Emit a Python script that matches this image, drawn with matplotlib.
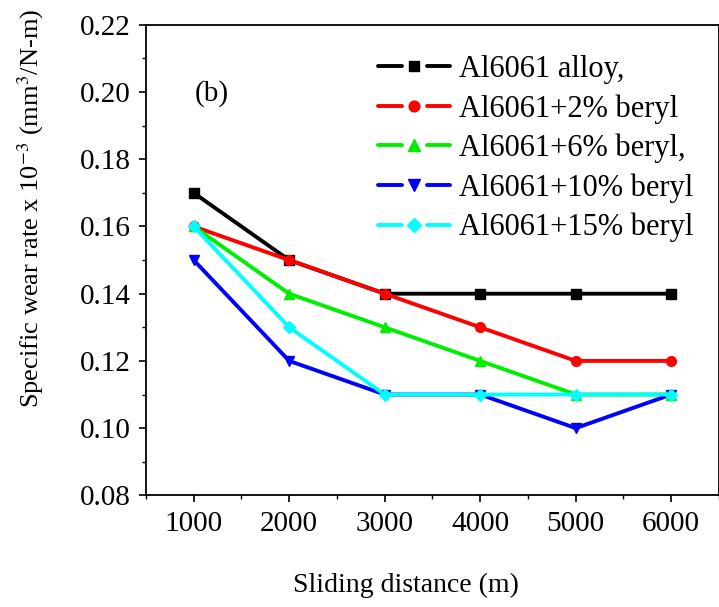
import matplotlib.pyplot as plt
from matplotlib.lines import Line2D
from matplotlib.legend_handler import HandlerBase
from matplotlib.ticker import MultipleLocator

plt.rcParams['font.family'] = ['Liberation Serif', 'DejaVu Serif']
plt.rcParams['mathtext.fontset'] = 'stix'

distance = [1000, 2000, 3000, 4000, 5000, 6000]
alloy = [0.17, 0.15, 0.14, 0.14, 0.14, 0.14]
beryl2 = [0.16, 0.15, 0.14, 0.13, 0.12, 0.12]
beryl6 = [0.16, 0.14, 0.13, 0.12, 0.11, 0.11]
beryl10 = [0.15, 0.12, 0.11, 0.11, 0.10, 0.11]
beryl15 = [0.16, 0.13, 0.11, 0.11, 0.11, 0.11]

series = [
    (alloy, 'Al6061 alloy,', '#000000', 's', 6.5),
    (beryl2, 'Al6061+2% beryl', '#ff0000', 'o', 7),
    (beryl6, 'Al6061+6% beryl,', '#00ee00', '^', 7.5),
    (beryl10, 'Al6061+10% beryl', '#0000ff', 'v', 7.5),
    (beryl15, 'Al6061+15% beryl', '#00ffff', 'D', 6.5),
]


class GapHandler(HandlerBase):
    # Origin-style legend entry: line segment, marker, line segment
    def create_artists(self, legend, orig_handle, xdescent, ydescent,
                       width, height, fontsize, trans):
        y = height / 2 - ydescent
        x0 = -xdescent
        seg = width * 0.33
        color = orig_handle.get_color()
        lw = orig_handle.get_linewidth()
        l1 = Line2D([x0, x0 + seg], [y, y], color=color, lw=lw, solid_capstyle='round')
        l2 = Line2D([x0 + width - seg, x0 + width], [y, y], color=color, lw=lw,
                    solid_capstyle='round')
        m = Line2D([x0 + width / 2], [y], linestyle='none', marker=orig_handle.get_marker(),
                   markersize=orig_handle.get_markersize() * 1.1, color=color)
        for a in (l1, l2, m):
            a.set_transform(trans)
        return [l1, l2, m]


fig = plt.figure(figsize=(7.19, 6.07), dpi=100)
ax = fig.add_axes([0.203, 0.184, 0.797, 0.775])

handles = []
for values, label, color, marker, ms in series:
    h, = ax.plot(distance, values, color=color, marker=marker, markersize=ms,
                 linewidth=2.8, label=label)
    handles.append(h)

ax.set_xlim(500, 6500)
ax.set_ylim(0.08, 0.22)
ax.set_xticks(distance)
ax.xaxis.set_minor_locator(MultipleLocator(500))
ax.set_yticks([0.08, 0.10, 0.12, 0.14, 0.16, 0.18, 0.20, 0.22])
ax.yaxis.set_minor_locator(MultipleLocator(0.01))
ax.yaxis.set_major_formatter(plt.FormatStrFormatter('%.2f'))

ax.tick_params(axis='both', which='major', labelsize=21, length=5, width=1.2,
               direction='out', pad=6)
ax.tick_params(axis='both', which='minor', length=3, width=1.0, direction='out')
for sp in ax.spines.values():
    sp.set_linewidth(1.3)

ax.set_xlabel('Sliding distance (m)', fontsize=20)
ax.xaxis.set_label_coords(0.453, -0.165)
ax.set_ylabel(r'Specific wear rate x 10$^{-3}$ (mm$^{3}$/N-m)', fontsize=19)
ax.yaxis.set_label_coords(-0.175, 0.61)

ax.text(0.086, 0.855, '(b)', transform=ax.transAxes, fontsize=21, va='center')

ax.legend(handles=handles, loc='upper right', bbox_to_anchor=(0.988, 0.975), frameon=False,
          fontsize=22, handlelength=2.35, handletextpad=0.3, labelspacing=0.33,
          borderaxespad=0.2, handler_map={Line2D: GapHandler()})

fig.savefig('out.png', dpi=100)
